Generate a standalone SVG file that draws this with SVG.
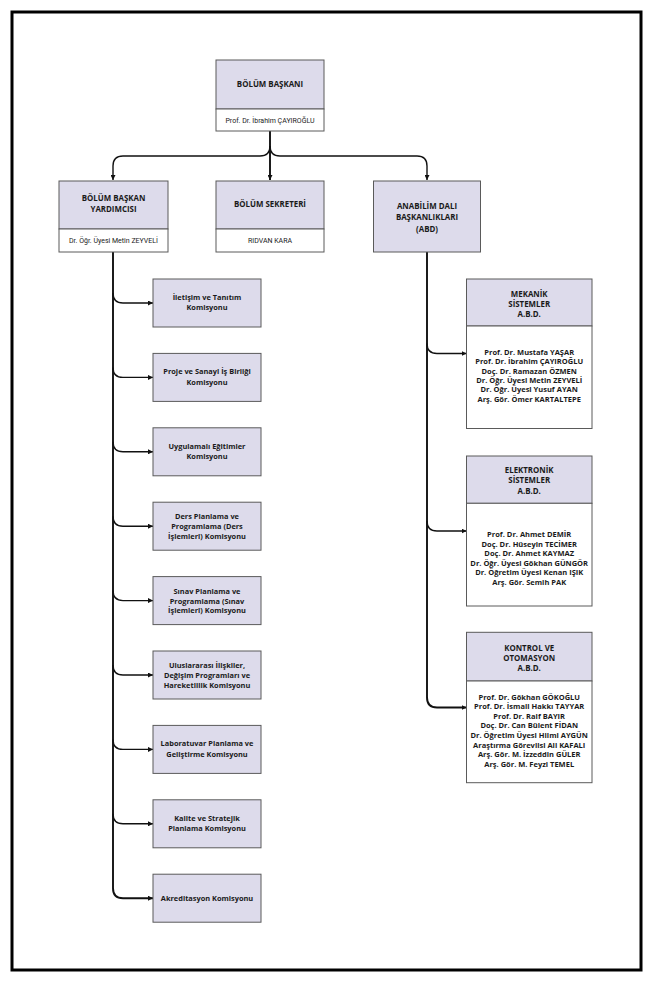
<svg xmlns="http://www.w3.org/2000/svg" width="654" height="982" viewBox="0 0 654 982">
<style>
.hd{fill:#dddbeb;stroke:#5a5a5a;stroke-width:1}
.wb{fill:#ffffff;stroke:#5a5a5a;stroke-width:1}
.t{font-family:"Open Sans","DejaVu Sans",sans-serif;font-weight:700;fill:#1a1a1a;text-anchor:middle}
.h{font-size:7.9px}
.c{font-size:7.4px}
.n{font-size:7.5px}
.s{font-family:Roboto,"Liberation Sans",sans-serif;font-size:7px;fill:#1a1a1a;text-anchor:middle}
.ln{fill:none;stroke:#111;stroke-width:1.4}
.sp{fill:none;stroke:#111;stroke-width:1.9}
</style>
<defs>
<marker id="ah" viewBox="0 0 6 6" refX="6" refY="3" markerWidth="5" markerHeight="5" markerUnits="userSpaceOnUse" orient="auto">
<path d="M0,0 L6,3 L0,6 z" fill="#111"/>
</marker>
</defs>
<rect x="0" y="0" width="654" height="982" fill="#ffffff"/>
<rect x="12" y="12" width="629" height="958" fill="#ffffff" stroke="#000" stroke-width="3"/>

<g id="connectors">
<path class="sp" d="M270,131 V180" marker-end="url(#ah)"/>
<path class="ln" d="M270,146 Q270,156 260,156 H123 Q113,156 113,166 V180" marker-end="url(#ah)"/>
<path class="ln" d="M270,146 Q270,156 280,156 H417 Q427,156 427,166 V180" marker-end="url(#ah)"/>
<path class="sp" d="M113,252 V888.2 Q113,898.2 123,898.2 H153" marker-end="url(#ah)"/>
<path class="ln" d="M113,293 Q113,303 123,303 H153" marker-end="url(#ah)"/>
<path class="ln" d="M113,367.4 Q113,377.4 123,377.4 H153" marker-end="url(#ah)"/>
<path class="ln" d="M113,441.8 Q113,451.8 123,451.8 H153" marker-end="url(#ah)"/>
<path class="ln" d="M113,516.2 Q113,526.2 123,526.2 H153" marker-end="url(#ah)"/>
<path class="ln" d="M113,590.6 Q113,600.6 123,600.6 H153" marker-end="url(#ah)"/>
<path class="ln" d="M113,665 Q113,675 123,675 H153" marker-end="url(#ah)"/>
<path class="ln" d="M113,739.4 Q113,749.4 123,749.4 H153" marker-end="url(#ah)"/>
<path class="ln" d="M113,813.8 Q113,823.8 123,823.8 H153" marker-end="url(#ah)"/>
<path class="sp" d="M427,252 V697.5 Q427,707.5 437,707.5 H466.5" marker-end="url(#ah)"/>
<path class="ln" d="M427,343.5 Q427,353.5 437,353.5 H466.5" marker-end="url(#ah)"/>
<path class="ln" d="M427,521 Q427,531 437,531 H466.5" marker-end="url(#ah)"/>
</g>

<g id="bolum-baskani">
<rect class="hd" x="216" y="60" width="108" height="49"/>
<rect class="wb" x="216" y="109" width="108" height="22"/>
<text class="t h" x="270" y="87.2">BÖLÜM BAŞKANI</text>
<text class="s" x="270" y="122.5">Prof. Dr. İbrahim ÇAYIROĞLU</text>
</g>

<g id="baskan-yardimcisi">
<rect class="hd" x="59" y="181" width="109" height="48"/>
<rect class="wb" x="59" y="229" width="109" height="23"/>
<text class="t h" x="113.5" y="201.2">BÖLÜM BAŞKAN</text>
<text class="t h" x="113.5" y="211.9">YARDIMCISI</text>
<text class="s" x="113.5" y="243.2">Dr. Öğr. Üyesi Metin ZEYVELİ</text>
</g>

<g id="bolum-sekreteri">
<rect class="hd" x="216" y="181" width="108" height="48"/>
<rect class="wb" x="216" y="229" width="108" height="23"/>
<text class="t h" x="270" y="207.2">BÖLÜM SEKRETERİ</text>
<text class="s" x="270" y="243.2">RIDVAN KARA</text>
</g>

<g id="abd">
<rect class="hd" x="373.5" y="181" width="107" height="71"/>
<text class="t h" x="427" y="208.6">ANABİLİM DALI</text>
<text class="t h" x="427" y="220">BAŞKANLIKLARI</text>
<text class="t h" x="427" y="231.6">(ABD)</text>
</g>

<g id="k1">
<rect class="hd" x="153" y="279" width="108" height="48"/>
<text class="t c" x="207" y="300">İletişim ve Tanıtım</text>
<text class="t c" x="207" y="310.4">Komisyonu</text>
</g>
<g id="k2">
<rect class="hd" x="153" y="353.4" width="108" height="48"/>
<text class="t c" x="207" y="374.4">Proje ve Sanayi İş Birliği</text>
<text class="t c" x="207" y="384.8">Komisyonu</text>
</g>
<g id="k3">
<rect class="hd" x="153" y="427.8" width="108" height="48"/>
<text class="t c" x="207" y="448.8">Uygulamalı Eğitimler</text>
<text class="t c" x="207" y="459.2">Komisyonu</text>
</g>
<g id="k4">
<rect class="hd" x="153" y="502.2" width="108" height="48"/>
<text class="t c" x="207" y="519.4">Ders Planlama ve</text>
<text class="t c" x="207" y="529.1">Programlama (Ders</text>
<text class="t c" x="207" y="538.8">İşlemleri) Komisyonu</text>
</g>
<g id="k5">
<rect class="hd" x="153" y="576.6" width="108" height="48"/>
<text class="t c" x="207" y="593.8">Sınav Planlama ve</text>
<text class="t c" x="207" y="603.5">Programlama (Sınav</text>
<text class="t c" x="207" y="613.2">İşlemleri) Komisyonu</text>
</g>
<g id="k6">
<rect class="hd" x="153" y="651" width="108" height="48"/>
<text class="t c" x="207" y="668.2">Uluslararası İlişkiler,</text>
<text class="t c" x="207" y="677.9">Değişim Programları ve</text>
<text class="t c" x="207" y="687.6">Hareketlilik Komisyonu</text>
</g>
<g id="k7">
<rect class="hd" x="153" y="725.4" width="108" height="48"/>
<text class="t c" x="207" y="746.4">Laboratuvar Planlama ve</text>
<text class="t c" x="207" y="756.8">Geliştirme Komisyonu</text>
</g>
<g id="k8">
<rect class="hd" x="153" y="799.8" width="108" height="48"/>
<text class="t c" x="207" y="820.8">Kalite ve Stratejik</text>
<text class="t c" x="207" y="831.2">Planlama Komisyonu</text>
</g>
<g id="k9">
<rect class="hd" x="153" y="874.2" width="108" height="48"/>
<text class="t c" x="207" y="900.8">Akreditasyon Komisyonu</text>
</g>

<g id="mekanik">
<rect class="hd" x="466.5" y="279" width="125.5" height="47"/>
<rect class="wb" x="466.5" y="326" width="125.5" height="102.5"/>
<text class="t h" x="529.2" y="296.9">MEKANİK</text>
<text class="t h" x="529.2" y="306.6">SİSTEMLER</text>
<text class="t h" x="529.2" y="316.5">A.B.D.</text>
<text class="t n" x="529.2" y="354.7">Prof. Dr. Mustafa YAŞAR</text>
<text class="t n" x="529.2" y="364.1">Prof. Dr. İbrahim ÇAYIROĞLU</text>
<text class="t n" x="529.2" y="373.5">Doç. Dr. Ramazan ÖZMEN</text>
<text class="t n" x="529.2" y="382.9">Dr. Öğr. Üyesi Metin ZEYVELİ</text>
<text class="t n" x="529.2" y="392.3">Dr. Öğr. Üyesi Yusuf AYAN</text>
<text class="t n" x="529.2" y="401.7">Arş. Gör. Ömer KARTALTEPE</text>
</g>

<g id="elektronik">
<rect class="hd" x="466.5" y="456" width="125.5" height="47.3"/>
<rect class="wb" x="466.5" y="503.3" width="125.5" height="102.7"/>
<text class="t h" x="529.2" y="472.9">ELEKTRONİK</text>
<text class="t h" x="529.2" y="483.2">SİSTEMLER</text>
<text class="t h" x="529.2" y="494.2">A.B.D.</text>
<text class="t n" x="529.2" y="537">Prof. Dr. Ahmet DEMİR</text>
<text class="t n" x="529.2" y="546.5">Doç. Dr. Hüseyin TECİMER</text>
<text class="t n" x="529.2" y="556">Doç. Dr. Ahmet KAYMAZ</text>
<text class="t n" x="529.2" y="565.5">Dr. Öğr. Üyesi Gökhan GÜNGÖR</text>
<text class="t n" x="529.2" y="575">Dr. Öğretim Üyesi Kenan IŞIK</text>
<text class="t n" x="529.2" y="584.5">Arş. Gör. Semih PAK</text>
</g>

<g id="kontrol">
<rect class="hd" x="466.5" y="632.3" width="125.5" height="48.7"/>
<rect class="wb" x="466.5" y="681" width="125.5" height="101.7"/>
<text class="t h" x="529.2" y="651.2">KONTROL VE</text>
<text class="t h" x="529.2" y="661.2">OTOMASYON</text>
<text class="t h" x="529.2" y="671.2">A.B.D.</text>
<text class="t n" x="529.2" y="699.5">Prof. Dr. Gökhan GÖKOĞLU</text>
<text class="t n" x="529.2" y="709.1">Prof. Dr. İsmail Hakkı TAYYAR</text>
<text class="t n" x="529.2" y="718.7">Prof. Dr. Raif BAYIR</text>
<text class="t n" x="529.2" y="728.3">Doç. Dr. Can Bülent FİDAN</text>
<text class="t n" x="529.2" y="737.9">Dr. Öğretim Üyesi Hilmi AYGÜN</text>
<text class="t n" x="529.2" y="747.5">Araştırma Görevlisi Ali KAFALI</text>
<text class="t n" x="529.2" y="757.1">Arş. Gör. M. İzzeddin GÜLER</text>
<text class="t n" x="529.2" y="766.7">Arş. Gör. M. Feyzi TEMEL</text>
</g>
</svg>
